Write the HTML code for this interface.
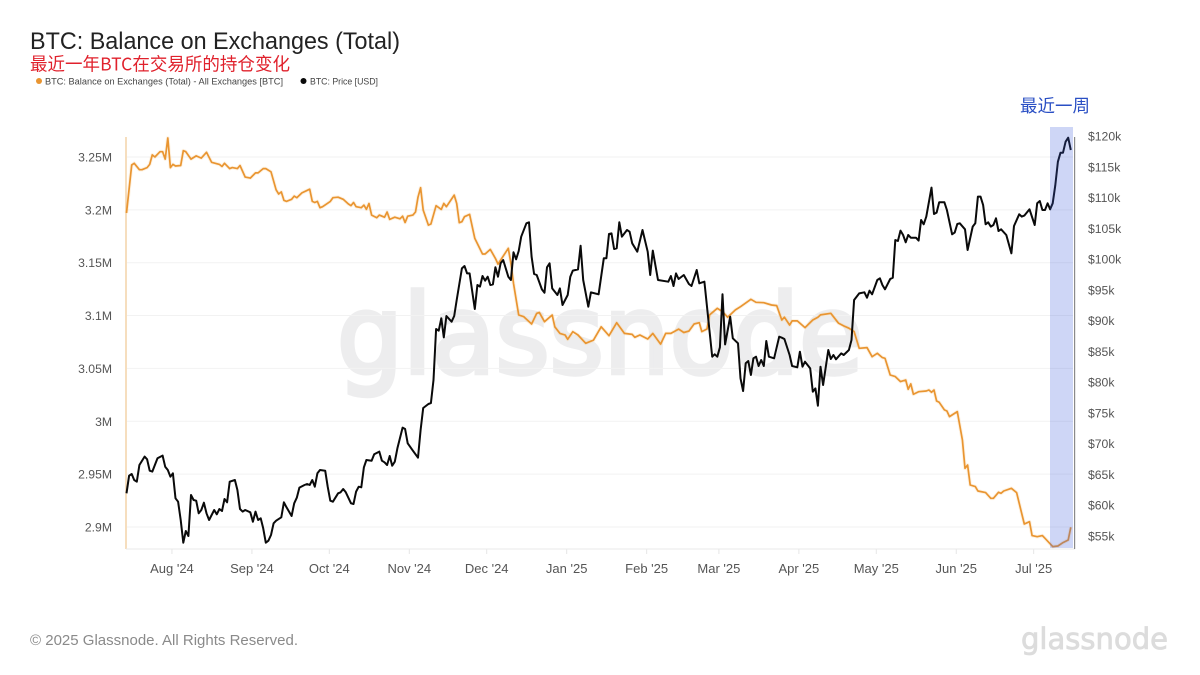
<!DOCTYPE html>
<html lang="zh">
<head>
<meta charset="utf-8">
<title>BTC: Balance on Exchanges (Total)</title>
<style>
html,body{margin:0;padding:0;background:#fff;width:1200px;height:675px;overflow:hidden}
svg{display:block;filter:blur(0.35px)}
text{font-family:"Liberation Sans","Noto Sans CJK SC",sans-serif}
</style>
</head>
<body>
<svg id="chart" xmlns="http://www.w3.org/2000/svg" width="1200" height="675" viewBox="0 0 1200 675">
  <rect width="1200" height="675" fill="#ffffff"/>
  <text x="337" y="373" font-size="110" textLength="526" lengthAdjust="spacingAndGlyphs" fill="#ededee" stroke="#ededee" stroke-width="4.5" style="font-family:'DejaVu Sans',sans-serif">glassnode</text>
  <g id="grid"></g>
  <g id="xaxis"></g>
  <g id="yleft"></g>
  <g id="yright"></g>
  <line x1="126" x2="126" y1="137" y2="549" stroke="#f3cfa3" stroke-width="1.4"/>
  <line x1="126" x2="1075" y1="549" y2="549" stroke="#e9e9e9" stroke-width="1"/>
  <path id="balance-glow" fill="none" stroke="#f7c27e" stroke-opacity="0.22" stroke-width="3.6" stroke-linejoin="round"/>
  <path id="balance-line" fill="none" stroke="#e99531" stroke-width="1.7" stroke-linejoin="round"/>
  <path id="price-line" fill="none" stroke="#0a0a0a" stroke-width="2" stroke-linejoin="round"/>
  <rect x="1050" y="127" width="23" height="421" fill="#3c5adc" fill-opacity="0.25"/>
  <line x1="1074.6" x2="1074.6" y1="137" y2="549" stroke="#8a8a8a" stroke-width="1.2"/>
  <text x="30" y="49" font-size="24" textLength="370" lengthAdjust="spacingAndGlyphs" fill="#222222">BTC: Balance on Exchanges (Total)</text>
  <text x="30" y="70.5" font-size="18" textLength="260" lengthAdjust="spacingAndGlyphs" fill="#e0212c" style="font-family:'Noto Sans CJK SC',sans-serif">最近一年BTC在交易所的持仓变化</text>
  <circle cx="39" cy="81" r="3" fill="#e99531"/>
  <text x="45" y="84.5" font-size="9.6" textLength="238" lengthAdjust="spacingAndGlyphs" fill="#444444">BTC: Balance on Exchanges (Total) - All Exchanges [BTC]</text>
  <circle cx="303.5" cy="81" r="3" fill="#0a0a0a"/>
  <text x="310" y="84.5" font-size="9.6" textLength="68" lengthAdjust="spacingAndGlyphs" fill="#444444">BTC: Price [USD]</text>
  <text x="1020" y="112" font-size="17.5" textLength="70" lengthAdjust="spacingAndGlyphs" fill="#2a4fc4" style="font-family:'Noto Sans CJK SC',sans-serif">最近一周</text>
  <text x="30" y="645" font-size="15" textLength="268" lengthAdjust="spacingAndGlyphs" fill="#8a8a8a">© 2025 Glassnode. All Rights Reserved.</text>
  <text x="1021" y="649" font-size="29" textLength="147" lengthAdjust="spacingAndGlyphs" fill="#dcdcdc" stroke="#dcdcdc" stroke-width="0.8" style="font-family:'DejaVu Sans',sans-serif">glassnode</text>
</svg>
<script>
// Days since 14 Jul 2024; balance in thousands of BTC; price in thousands of USD.
const balanceDays = [0,2,3,5,6,8,9,10,11,13,14,15,16,17,18,19,21,22,23,25,27,29,31,33,36,37,38,40,41,43,44,46,48,50,51,53,54,56,58,59,60,61,62,64,65,66,68,71,72,73,74,75,76,79,80,82,84,86,87,88,89,91,92,93,94,95,97,98,100,101,102,104,106,107,108,109,111,112,113,114,115,117,118,120,122,123,124,127,128,129,130,131,133,135,138,139,141,143,144,148,149,150,152,154,157,159,160,162,165,166,168,170,171,173,175,178,181,184,187,190,193,196,197,199,202,204,207,209,211,214,216,218,220,222,223,225,226,229,231,233,236,238,242,244,247,250,252,254,255,257,258,260,263,266,268,269,273,276,278,280,282,284,287,289,291,293,294,296,298,300,302,303,304,305,307,310,311,312,313,314,315,317,318,319,322,324,325,326,327,329,330,333,335,336,338,339,340,343,345,348,350,351,353,355,356,359,361,363,365,366];
const balanceValues = [3197,3242.4,3244,3238,3238,3240,3243,3252,3250,3255,3255,3248,3268,3240,3243,3241.5,3242,3256,3255,3248,3251,3249,3254.4,3245,3243,3241,3244,3239,3240,3239,3242,3231,3230,3235,3235,3239,3239,3236,3219,3215,3217,3209,3208,3210,3213,3211.5,3216,3219.5,3208,3207,3208,3202,3203,3208,3211.5,3212,3210,3205.5,3204,3207,3203,3202,3204.5,3200.5,3206,3195,3192.6,3195,3193,3198,3191,3193,3191.5,3194,3188,3194,3195,3198,3212,3221,3199.8,3185.6,3186.6,3203.9,3200.4,3206.1,3203,3214,3206,3187.8,3188.8,3193.5,3195.7,3173,3158.2,3158.2,3162.6,3154.1,3148.7,3163.6,3149.4,3130.4,3100.5,3098.9,3092,3102,3103,3094.2,3100.5,3089.4,3083.1,3081.6,3077.5,3084.7,3081.6,3073.7,3076.8,3089.4,3080.9,3093.2,3083.1,3082.2,3079.4,3081.6,3077.8,3083.1,3073,3083.1,3083.1,3087.2,3084,3085.3,3092,3093.2,3084.8,3087.3,3100.6,3106.9,3103.7,3098.4,3105.3,3108.4,3115.4,3112.5,3112.2,3110,3109.4,3095.8,3098.4,3091.1,3094.9,3094.9,3088.6,3095.8,3098.4,3100.6,3102.1,3092.7,3090.2,3088,3084.8,3069,3069.7,3061.1,3064.3,3060.2,3059.6,3043.8,3042.2,3037.5,3039,3030.2,3035.3,3025.5,3028,3028.6,3029.6,3027.4,3029.6,3019.2,3017.9,3010.7,3009.7,3004.4,3009.1,2982.3,2955.5,2958.6,2939.7,2938.2,2934,2932.5,2927.1,2927.1,2932.8,2931.8,2934,2936.6,2932.5,2902.8,2905,2891.8,2890.8,2891.8,2889.3,2881.4,2882,2885.2,2887.7,2899.7];
const priceDays = [0,1,2,3,4,5,7,8,9,10,12,14,15,16,17,18,19,20,21,22,23,24,25,26,27,28,29,30,31,32,34,35,36,37,38,39,40,42,43,44,45,46,48,49,50,51,52,53,54,55,56,57,58,60,61,62,64,65,66,67,69,70,71,72,73,74,75,77,78,79,80,82,83,84,85,87,88,89,90,91,92,93,95,96,98,99,100,101,102,103,104,105,107,108,109,111,113,114,115,117,118,119,120,121,122,123,124,126,127,128,130,131,132,133,135,136,137,138,139,140,141,142,143,144,145,146,148,149,150,151,152,153,155,156,157,158,159,161,162,163,164,165,167,168,169,171,172,173,175,176,177,179,180,183,185,186,187,188,189,190,191,192,194,195,196,198,200,202,203,204,206,210,211,212,213,214,216,218,219,221,222,224,227,228,229,230,231,232,234,235,237,238,239,240,241,242,243,244,245,246,247,248,249,251,253,254,255,257,258,260,261,262,263,265,266,267,268,269,270,272,273,274,275,277,278,280,281,282,284,286,287,288,289,291,292,293,294,296,297,298,299,300,301,302,303,304,306,307,308,309,310,312,313,314,315,317,318,320,321,322,323,325,326,328,329,330,331,332,333,334,335,336,337,338,339,341,343,344,346,347,348,350,352,353,354,355,356,357,358,359,360,361,362,363,364,365,366];
const priceValues = [61.94,64.8,65.08,64.1,63.83,66.54,67.9,67.46,65.62,65.46,67.62,68.06,66.27,65.73,64.64,65.19,61.12,60.58,57.6,53.92,55.81,55,61.66,60.85,60.74,58.69,59.23,60.42,58.69,57.6,59.23,58.52,59.39,59.06,61.02,60.47,63.83,64.1,62.48,59.39,58.96,59.23,58.85,57.33,58.96,57.6,57.87,56.25,53.92,54.24,55.17,57.06,57.49,58.04,60.47,59.66,58.25,60.31,61.23,62.86,63.29,63.45,63.29,64.1,63.02,65.19,65.73,65.62,63.02,60.74,60.58,61.94,62.1,62.64,62.1,60.31,60.2,62.21,63.02,62.91,66.16,67.35,67.24,68.27,68.71,67.24,66.97,66.54,68,66.43,67.08,69.25,72.61,72.39,70.06,68.87,67.73,72.23,75.8,76.45,76.6,80.35,88.64,88.36,90.37,87.28,90.75,89.83,90.75,93.35,98.49,98.87,97.68,97.68,91.89,95.79,95.52,97.25,96.49,97.14,95.79,95.89,98.66,97.14,99.31,99.85,97.14,96.6,101.1,99.96,101.31,103.64,105.81,105.97,100.39,97.57,97.41,95.08,94.54,98.66,99.31,95.24,94.16,95.24,92.54,94.16,97.14,98.12,98.33,102.18,96.6,92.27,94.59,94.27,100.12,100.12,104.07,104.18,101.64,101.75,105.97,103.64,104.72,104.45,102.56,101.2,104.72,101.2,97.41,101.37,96.6,96.33,97.25,95.62,97.68,96.76,97.41,95.95,95.62,98.22,96.06,96.33,84.14,84.52,84.14,85.66,94.27,86.14,90.64,87.12,86.31,80.62,78.56,83.06,83.44,81.16,83.87,84.14,82.62,83.6,82.62,86.69,84.14,83.87,87.39,87.23,87.01,84.41,82.62,82.41,84.95,82.52,83.33,82.24,78.45,78.99,76.18,82.52,79.54,85.22,83.76,84.41,83.71,84.68,84.41,85.22,86.85,93.35,94.43,94.6,93.73,94.87,94.27,96.6,96.87,95.79,95.09,96.77,96.98,103.1,102.94,104.62,103.92,102.73,103.92,103.48,103.48,103,106.35,105.65,106.9,111.61,107.33,107.55,109.23,109.23,107.98,104.03,104.3,105.7,105.81,104.84,101.48,105.27,105.81,110.15,110.15,108.8,105.65,105.98,105.27,105.54,106.63,104.57,104.84,103.92,100.94,105.38,107.28,106.9,107.06,108.09,105.54,109.06,109.44,107.98,107.98,109.06,108.09,109.06,112,115.82,117.29,117.29,119.07,119.72,117.72];
const monthLabels = ["Aug '24","Sep '24","Oct '24","Nov '24","Dec '24","Jan '25","Feb '25","Mar '25","Apr '25","May '25","Jun '25","Jul '25"];
const monthDays = [18,49,79,110,140,171,202,230,261,291,322,352];
const leftTickValues = [3250,3200,3150,3100,3050,3000,2950,2900];
const leftTickLabels = ["3.25M","3.2M","3.15M","3.1M","3.05M","3M","2.95M","2.9M"];
const rightTickValues = [120,115,110,105,100,95,90,85,80,75,70,65,60,55];
const rightTickLabels = ["$120k","$115k","$110k","$105k","$100k","$95k","$90k","$85k","$80k","$75k","$70k","$65k","$60k","$55k"];

const NS = 'http://www.w3.org/2000/svg';
function xScale(day){ return 126.5 + day * 2.58; }
function yBalance(v){ return 157 + (3250 - v) * 1.057; }
function yPrice(p){ return 136 + (120 - p) * 6.154; }
function make(tag, parent, attrs){
  const el = document.createElementNS(NS, tag);
  for (const k in attrs) el.setAttribute(k, attrs[k]);
  parent.appendChild(el);
  return el;
}
function pathFrom(days, values, y){
  return days.map((d, i) => (i ? 'L' : 'M') + xScale(d).toFixed(1) + ' ' + y(values[i]).toFixed(1)).join('');
}

const gridGroup = document.getElementById('grid');
const xGroup = document.getElementById('xaxis');
const leftGroup = document.getElementById('yleft');
const rightGroup = document.getElementById('yright');

leftTickValues.forEach((v, i) => {
  const y = yBalance(v);
  const line = make('line', gridGroup, {x1: 127, x2: 1073, y1: y, y2: y, stroke: '#f2f2f2', 'stroke-width': 1});
  
  
  const t = make('text', leftGroup, {x: 112, y: y + 4.5, 'text-anchor': 'end', 'font-size': 12.2, fill: '#555555'});
  
  
  t.textContent = leftTickLabels[i];
});

rightTickValues.forEach((v, i) => {
  const t = make('text', rightGroup, {x: 1088, y: yPrice(v) + 4.5, 'font-size': 12.2, fill: '#555555'});
  
  
  t.textContent = rightTickLabels[i];
});

monthDays.forEach((d, i) => {
  const x = xScale(d);
  const tick = make('line', xGroup, {x1: x - 1, x2: x - 1, y1: 549, y2: 554, stroke: '#e6e6e6', 'stroke-width': 1});
  
  
  const t = make('text', xGroup, {x: x - 1, y: 573, 'text-anchor': 'middle', 'font-size': 13, fill: '#555555'});
  
  
  t.textContent = monthLabels[i];
});

const balancePath = pathFrom(balanceDays, balanceValues, yBalance);
document.getElementById('balance-glow').setAttribute('d', balancePath);
document.getElementById('balance-line').setAttribute('d', balancePath);
document.getElementById('price-line').setAttribute('d', pathFrom(priceDays, priceValues, yPrice));
</script>
</body>
</html>
